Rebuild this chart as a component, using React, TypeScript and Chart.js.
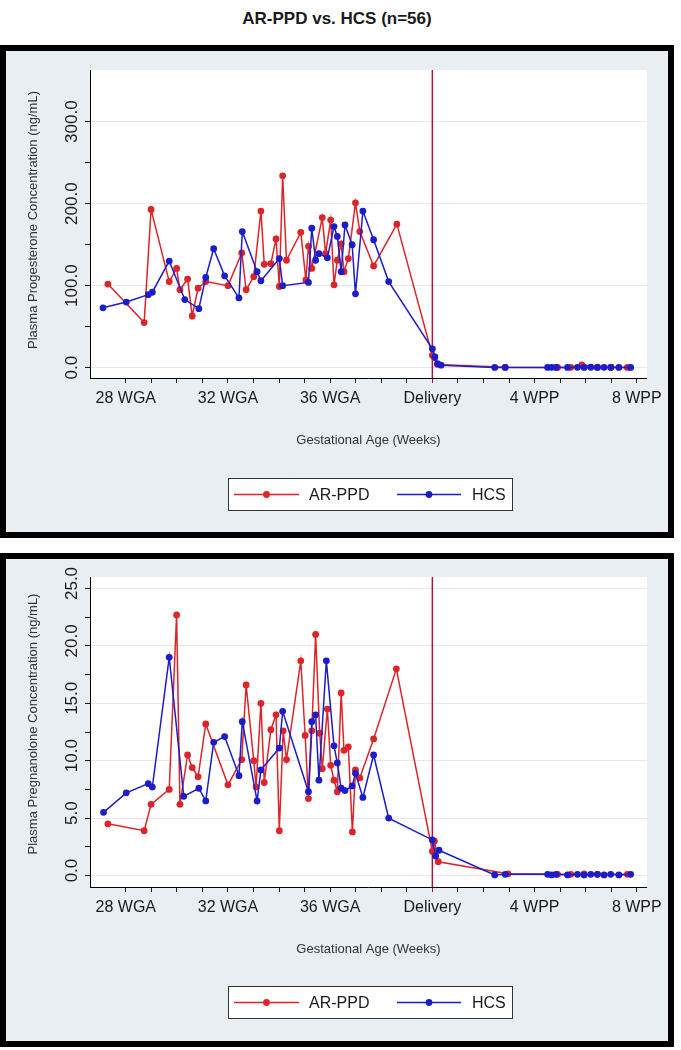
import React, { useEffect, useRef } from 'react';
import { Chart, registerables } from 'chart.js';

Chart.register(...registerables);

const FONT = '"Liberation Sans", Arial, Helvetica, sans-serif';
const RED = '#dc2429';
const BLUE = '#1c1cc9';
const MAROON = '#9a1c45';

const pageTitle = 'AR-PPD vs. HCS (n=56)';
const seriesNames = ['AR-PPD', 'HCS'];
const xTitle = 'Gestational Age (Weeks)';
const xMin = 26.6;
const xMax = 48.4;
const weekTicks = [28, 29, 30, 31, 32, 33, 34, 35, 36, 37, 38, 39, 40, 41, 42, 43, 44, 45, 46, 47, 48];
const xTickValues = [28, 32, 36, 40, 44, 48];
const xTickLabels = ['28 WGA', '32 WGA', '36 WGA', 'Delivery', '4 WPP', '8 WPP'];
const deliveryWeek = 40;

// Progesterone panel
const progYTitle = 'Plasma Progesterone Concentration (ng/mL)';
const progYTicks = [0, 50, 100, 150, 200, 250, 300];
const progYLabels = [0, 100, 200, 300];
const progYMin = -12.6;
const progYMax = 363;
const progArWeeks = [27.3, 28.72, 28.99, 29.7, 29.99, 30.12, 30.42, 30.6, 30.83, 31.13, 32.0, 32.54, 32.71, 33.01, 33.29, 33.42, 33.68, 33.88, 34.01, 34.14, 34.29, 34.85, 35.05, 35.15, 35.28, 35.69, 35.82, 36.02, 36.15, 36.28, 36.43, 36.54, 36.71, 36.99, 37.16, 37.7, 38.61, 40.0, 40.08, 40.2, 42.85, 44.9, 45.42, 45.85, 46.46, 47.0, 47.63];
const progArValues = [102, 55, 193, 105, 121, 95, 108, 63, 97, 105, 100, 140, 95, 111, 191, 126, 127, 157, 99, 234, 131, 165, 107, 148, 121, 183, 139, 180, 101, 131, 151, 117, 133, 201, 166, 124, 175, 15, 12, 4, 0.4, 0.3, 0.4, 3.5, 0.5, 0.5, 0.3];
const progHcsWeeks = [27.11, 28.02, 28.88, 29.04, 29.7, 30.31, 30.86, 31.13, 31.44, 31.87, 32.43, 32.56, 33.14, 33.29, 34.01, 34.14, 35.15, 35.28, 35.43, 35.56, 35.89, 36.15, 36.28, 36.43, 36.58, 36.86, 36.99, 37.28, 37.7, 38.29, 40.0, 40.1, 40.2, 40.34, 42.44, 42.85, 44.51, 44.67, 44.84, 45.29, 45.68, 45.94, 46.2, 46.46, 46.72, 46.98, 47.3, 47.76];
const progHcsValues = [73, 80, 89, 92, 130, 83, 72, 110, 145, 112, 85, 166, 117, 106, 133, 100, 104, 170, 131, 139, 134, 172, 160, 117, 174, 150, 90, 191, 156, 105, 23, 13, 5, 3, 0.3, 0.3, 0.3, 0.4, 0.3, 0.3, 0.4, 0.3, 0.5, 0.3, 0.4, 0.3, 0.3, 0.3];

// Pregnanolone panel
const pregYTitle = 'Plasma Pregnanolone Concentration (ng/mL)';
const pregYTicks = [0, 2.5, 5, 7.5, 10, 12.5, 15, 17.5, 20, 22.5, 25];
const pregYLabels = [0, 5, 10, 15, 20, 25];
const pregYMin = -1;
const pregYMax = 26;
const pregArWeeks = [27.3, 28.72, 28.99, 29.7, 29.99, 30.12, 30.42, 30.6, 30.83, 31.13, 32.0, 32.54, 32.71, 33.01, 33.1, 33.29, 33.42, 33.68, 33.88, 34.01, 34.16, 34.29, 34.85, 35.02, 35.15, 35.28, 35.43, 35.59, 35.69, 35.89, 36.02, 36.15, 36.28, 36.43, 36.54, 36.71, 36.87, 36.99, 37.16, 37.7, 38.59, 40.0, 40.08, 40.23, 42.96, 44.9, 45.42, 45.94, 46.46, 47.63];
const pregArValues = [4.5, 3.9, 6.2, 7.5, 22.7, 6.2, 10.5, 9.4, 8.6, 13.2, 7.9, 10.1, 16.6, 10.0, 7.7, 15.0, 8.1, 12.7, 14.0, 3.9, 12.6, 10.1, 18.7, 12.2, 6.7, 12.6, 21.0, 12.4, 9.3, 14.5, 9.6, 8.3, 7.3, 15.9, 10.9, 11.2, 3.8, 9.2, 8.5, 11.9, 18.0, 2.1, 3.0, 1.2, 0.15, 0.1, 0.1, 0.15, 0.1, 0.1];
const pregHcsWeeks = [27.13, 28.02, 28.88, 29.04, 29.7, 30.27, 30.86, 31.13, 31.44, 31.87, 32.43, 32.56, 33.14, 33.29, 34.01, 34.14, 35.15, 35.28, 35.43, 35.56, 35.85, 36.15, 36.28, 36.43, 36.58, 36.86, 36.99, 37.28, 37.7, 38.29, 40.0, 40.13, 40.26, 42.44, 42.85, 44.51, 44.67, 44.84, 45.29, 45.68, 45.94, 46.2, 46.46, 46.72, 46.98, 47.3, 47.76];
const pregHcsValues = [5.5, 7.2, 8.0, 7.7, 19.0, 6.9, 7.6, 6.5, 11.6, 12.1, 8.7, 13.4, 6.5, 9.2, 11.1, 14.3, 7.3, 13.4, 14.0, 8.3, 18.7, 11.3, 9.8, 7.6, 7.4, 7.8, 8.9, 6.8, 10.5, 5.0, 3.1, 1.7, 2.2, 0.05, 0.1, 0.1, 0.05, 0.1, 0.05, 0.1, 0.05, 0.1, 0.1, 0.05, 0.1, 0.05, 0.1];

type PanelProps = {
  height: number;
  topPad: number;
  yTitle: string;
  yTicks: number[];
  yLabels: number[];
  yMin: number;
  yMax: number;
  arWeeks: number[];
  arValues: number[];
  hcsWeeks: number[];
  hcsValues: number[];
  labelShift: number;
  titleShift: number;
};

function PanelChart(p: PanelProps) {
  const ref = useRef<HTMLCanvasElement>(null);
  useEffect(() => {
    const canvas = ref.current;
    if (!canvas) return;
    const decor = {
      id: 'decor',
      beforeDraw(chart: any) {
        const { ctx, chartArea } = chart;
        ctx.save();
        ctx.fillStyle = '#ffffff';
        ctx.fillRect(chartArea.left, chartArea.top, chartArea.right - chartArea.left, chartArea.bottom - chartArea.top);
        ctx.restore();
      },
      afterDraw(chart: any) {
        const { ctx, chartArea, scales } = chart;
        const ys = scales.y;
        ctx.save();
        ctx.fillStyle = '#1a1a1a';
        ctx.font = `17px ${FONT}`;
        ctx.textAlign = 'center';
        ctx.textBaseline = 'middle';
        for (const v of p.yLabels) {
          const py = ys.getPixelForValue(v) + p.labelShift;
          ctx.save();
          ctx.translate(66, py);
          ctx.rotate(-Math.PI / 2);
          ctx.fillText(v.toFixed(1), 0, 0);
          ctx.restore();
        }
        ctx.font = `13px ${FONT}`;
        ctx.fillStyle = '#333333';
        ctx.save();
        ctx.translate(27, (chartArea.top + chartArea.bottom) / 2 + p.titleShift);
        ctx.rotate(-Math.PI / 2);
        ctx.fillText(p.yTitle, 0, 0);
        ctx.restore();

        // legend
        const lx = 222, ly = 427, lw = 285, lh = 33;
        ctx.fillStyle = '#ffffff';
        ctx.fillRect(lx, ly, lw, lh);
        ctx.strokeStyle = '#333333';
        ctx.lineWidth = 1;
        ctx.strokeRect(lx + 0.5, ly + 0.5, lw - 1, lh - 1);
        const cy = ly + lh / 2;
        const ds = chart.data.datasets;
        const items = [
          { color: RED, x0: 228, x1: 293, tx: 303, label: ds[0].label },
          { color: BLUE, x0: 391, x1: 455, tx: 466, label: ds[1].label },
        ];
        for (const it of items) {
          ctx.strokeStyle = it.color;
          ctx.lineWidth = 1.5;
          ctx.beginPath();
          ctx.moveTo(it.x0, cy);
          ctx.lineTo(it.x1, cy);
          ctx.stroke();
          ctx.fillStyle = it.color;
          ctx.beginPath();
          ctx.arc((it.x0 + it.x1) / 2, cy, 3.4, 0, Math.PI * 2);
          ctx.fill();
          ctx.fillStyle = '#1a1a1a';
          ctx.font = `16px ${FONT}`;
          ctx.textAlign = 'left';
          ctx.textBaseline = 'middle';
          ctx.fillText(it.label, it.tx, cy + 1);
        }
        ctx.restore();
      },
    };

    const chart = new Chart(canvas, {
      type: 'line',
      data: {
        datasets: [
          {
            label: seriesNames[0],
            data: p.arWeeks.map((w, i) => ({ x: w, y: p.arValues[i] })),
            borderColor: RED,
            backgroundColor: RED,
            borderWidth: 1.5,
            pointRadius: 3.4,
            pointBorderWidth: 0,
            pointBackgroundColor: RED,
            tension: 0,
            order: 2,
          },
          {
            label: seriesNames[1],
            data: p.hcsWeeks.map((w, i) => ({ x: w, y: p.hcsValues[i] })),
            borderColor: BLUE,
            backgroundColor: BLUE,
            borderWidth: 1.5,
            pointRadius: 3.4,
            pointBorderWidth: 0,
            pointBackgroundColor: BLUE,
            tension: 0,
            order: 1,
          },
          {
            label: 'Delivery',
            data: [
              { x: deliveryWeek, y: p.yMin },
              { x: deliveryWeek, y: p.yMax },
            ],
            borderColor: MAROON,
            borderWidth: 1.5,
            pointRadius: 0,
            order: 3,
          },
        ],
      },
      options: {
        responsive: false,
        animation: false,
        devicePixelRatio: 1,
        layout: { padding: { left: 0, right: 18, top: p.topPad, bottom: 84 } },
        plugins: { legend: { display: false }, tooltip: { enabled: false } },
        scales: {
          x: {
            type: 'linear',
            min: xMin,
            max: xMax,
            afterBuildTicks: (s: any) => {
              s.ticks = weekTicks.map((v) => ({ value: v }));
            },
            afterFit: (s: any) => {
              s.height = 70;
            },
            ticks: {
              autoSkip: false,
              maxRotation: 0,
              minRotation: 0,
              padding: 6,
              color: '#1a1a1a',
              font: { family: FONT, size: 16 },
              callback: (v: any) => {
                const i = xTickValues.indexOf(Number(v));
                return i >= 0 ? xTickLabels[i] : '';
              },
            },
            grid: {
              display: true,
              drawOnChartArea: false,
              drawTicks: true,
              tickLength: 5,
              color: 'transparent',
              tickColor: (ctx: any) => (ctx.tick && ctx.tick.value === deliveryWeek ? MAROON : '#222222'),
            },
            border: { display: true, color: '#000000', width: 1 },
            title: {
              display: true,
              text: xTitle,
              color: '#333333',
              font: { family: FONT, size: 13 },
              padding: { top: 0, bottom: 0 },
            },
          },
          y: {
            type: 'linear',
            min: p.yMin,
            max: p.yMax,
            afterBuildTicks: (s: any) => {
              s.ticks = p.yTicks.map((v) => ({ value: v }));
            },
            afterFit: (s: any) => {
              s.width = 84;
            },
            ticks: { display: false },
            grid: {
              drawTicks: true,
              tickLength: 5,
              color: (ctx: any) => (ctx.tick && p.yLabels.includes(ctx.tick.value) ? '#e8e8e8' : 'transparent'),
              tickColor: '#222222',
            },
            border: { display: true, color: '#000000', width: 1 },
          },
        },
      } as any,
      plugins: [decor],
    });
    return () => chart.destroy();
  }, []);
  return <canvas ref={ref} width={662} height={p.height} style={{ display: 'block' }} />;
}

const panelStyle = (top: number, height: number): React.CSSProperties => ({
  position: 'absolute',
  left: 0,
  top,
  width: 674,
  height,
  boxSizing: 'border-box',
  border: '6px solid #000',
  background: '#e8eef1',
});

export default function App() {
  return (
    <div style={{ position: 'absolute', left: 0, top: 0, width: 681, height: 1050, background: '#fff', overflow: 'hidden' }}>
      <div
        style={{
          position: 'absolute',
          left: 0,
          top: 9,
          width: 674,
          textAlign: 'center',
          fontFamily: FONT,
          fontWeight: 'bold',
          fontSize: 17,
          lineHeight: '20px',
          color: '#1a1a1a',
        }}
      >
        {pageTitle}
      </div>
      <div style={panelStyle(45, 493)}>
        <PanelChart
          height={481}
          topPad={19}
          yTitle={progYTitle}
          yTicks={progYTicks}
          yLabels={progYLabels}
          yMin={progYMin}
          yMax={progYMax}
          arWeeks={progArWeeks}
          arValues={progArValues}
          hcsWeeks={progHcsWeeks}
          hcsValues={progHcsValues}
          labelShift={0}
          titleShift={-4}
        />
      </div>
      <div style={panelStyle(553, 494)}>
        <PanelChart
          height={482}
          topPad={18}
          yTitle={pregYTitle}
          yTicks={pregYTicks}
          yLabels={pregYLabels}
          yMin={pregYMin}
          yMax={pregYMax}
          arWeeks={pregArWeeks}
          arValues={pregArValues}
          hcsWeeks={pregHcsWeeks}
          hcsValues={pregHcsValues}
          labelShift={-5}
          titleShift={-8}
        />
      </div>
    </div>
  );
}
